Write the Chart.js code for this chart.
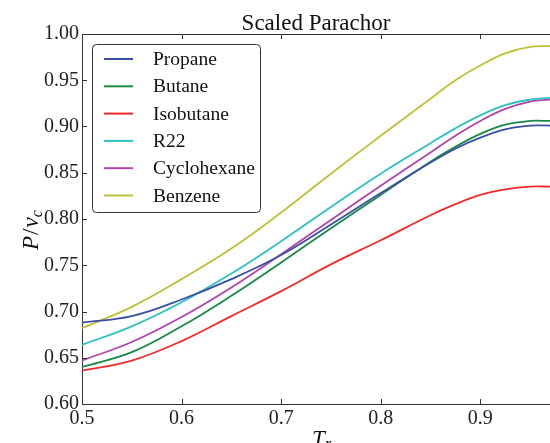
<!DOCTYPE html>
<html>
<head>
<meta charset="utf-8">
<script src="https://cdn.jsdelivr.net/npm/chart.js@4.4.0/dist/chart.umd.min.js"></script>
<style>
  html, body { margin: 0; padding: 0; background: #fff; }
  #wrap { width: 550px; height: 443px; }
</style>
</head>
<body>
<div id="wrap"><canvas id="chart" width="550" height="443"></canvas></div>
<script>
// reduced temperature
var tr = [0.5, 0.55, 0.6, 0.65, 0.7, 0.75, 0.8, 0.85, 0.875, 0.9, 0.925, 0.95, 0.97];

var propane     = [0.688, 0.695, 0.713, 0.735, 0.761, 0.794, 0.828, 0.861, 0.876, 0.888, 0.897, 0.901, 0.901];
var butane      = [0.640, 0.656, 0.684, 0.717, 0.753, 0.790, 0.826, 0.862, 0.878, 0.892, 0.902, 0.906, 0.906];
var isobutane   = [0.636, 0.647, 0.668, 0.695, 0.722, 0.751, 0.777, 0.804, 0.816, 0.826, 0.832, 0.835, 0.835];
var r22         = [0.664, 0.684, 0.710, 0.741, 0.776, 0.813, 0.849, 0.882, 0.898, 0.912, 0.923, 0.929, 0.931];
var cyclohexane = [0.647, 0.667, 0.694, 0.726, 0.762, 0.799, 0.836, 0.872, 0.890, 0.906, 0.919, 0.927, 0.929];
var benzene     = [0.682, 0.705, 0.735, 0.768, 0.807, 0.849, 0.890, 0.930, 0.950, 0.966, 0.979, 0.986, 0.987];

var xTicks = [0.5, 0.6, 0.7, 0.8, 0.9];
var yTicks = [0.60, 0.65, 0.70, 0.75, 0.80, 0.85, 0.90, 0.95, 1.00];

var serif = "'Liberation Serif', 'DejaVu Serif', serif";

function pts(vals) {
    return tr.map(function (x, i) { return { x: x, y: vals[i] }; });
}

function ds(label, vals, color) {
    return {
        label: label,
        data: pts(vals),
        borderColor: color,
        backgroundColor: color,
        borderWidth: 1.8,
        pointRadius: 0,
        fill: false,
        tension: 0.4
    };
}

// spines, inward ticks, title, axis labels and legend box
var decor = {
    id: 'decor',
    afterDraw: function (c) {
        var ctx = c.ctx, a = c.chartArea;
        var xs = c.scales.x, ys = c.scales.y;
        ctx.save();
        ctx.strokeStyle = '#333';
        ctx.lineWidth = 1;
        ctx.beginPath();
        ctx.moveTo(a.left, a.top + 0.5);
        ctx.lineTo(a.right, a.top + 0.5);
        ctx.stroke();

        ctx.beginPath();
        xTicks.forEach(function (v) {
            var px = Math.round(xs.getPixelForValue(v)) + 0.5;
            ctx.moveTo(px, a.bottom);
            ctx.lineTo(px, a.bottom - 5);
            ctx.moveTo(px, a.top);
            ctx.lineTo(px, a.top + 5);
        });
        yTicks.forEach(function (v) {
            var py = Math.round(ys.getPixelForValue(v)) + 0.5;
            ctx.moveTo(a.left, py);
            ctx.lineTo(a.left + 5, py);
        });
        ctx.stroke();

        // title
        ctx.fillStyle = '#111';
        ctx.font = '23px ' + serif;
        ctx.textAlign = 'center';
        ctx.textBaseline = 'alphabetic';
        ctx.fillText('Scaled Parachor', (a.left + a.right) / 2, 30);

        // x label T_r
        ctx.font = 'italic 23px ' + serif;
        ctx.textAlign = 'left';
        ctx.fillText('T', 312, 446);
        ctx.font = 'italic 16px ' + serif;
        ctx.fillText('r', 325, 449);

        // y label P/v_c
        ctx.save();
        ctx.translate(38, 250);
        ctx.rotate(-Math.PI / 2);
        ctx.font = 'italic 23px ' + serif;
        ctx.textAlign = 'left';
        ctx.fillText('P', 0, 0);
        var w = ctx.measureText('P').width;
        ctx.font = '23px ' + serif;
        ctx.fillText('/', w + 1, 0);
        w += ctx.measureText('/').width + 2;
        ctx.font = 'italic 23px ' + serif;
        ctx.fillText('v', w, 0);
        w += ctx.measureText('v').width;
        ctx.font = 'italic 16px ' + serif;
        ctx.fillText('c', w, 4);
        ctx.restore();

        // legend
        var bx = 92.5, by = 44.5, bw = 168, bh = 168, r = 4;
        ctx.beginPath();
        ctx.moveTo(bx + r, by);
        ctx.arcTo(bx + bw, by, bx + bw, by + bh, r);
        ctx.arcTo(bx + bw, by + bh, bx, by + bh, r);
        ctx.arcTo(bx, by + bh, bx, by, r);
        ctx.arcTo(bx, by, bx + bw, by, r);
        ctx.closePath();
        ctx.fillStyle = '#fff';
        ctx.fill();
        ctx.strokeStyle = '#333';
        ctx.stroke();

        ctx.font = '19.5px ' + serif;
        ctx.textBaseline = 'middle';
        c.data.datasets.forEach(function (d, i) {
            var y = 59 + i * 27.3;
            ctx.strokeStyle = d.borderColor;
            ctx.lineWidth = 2;
            ctx.beginPath();
            ctx.moveTo(104, y);
            ctx.lineTo(133, y);
            ctx.stroke();
            ctx.fillStyle = '#111';
            ctx.fillText(d.label, 153, y + 1);
        });
        ctx.restore();
    }
};

new Chart(document.getElementById('chart'), {
    type: 'line',
    data: {
        datasets: [
            ds('Propane', propane, '#3b50a5'),
            ds('Butane', butane, '#178a45'),
            ds('Isobutane', isobutane, '#f02a2a'),
            ds('R22', r22, '#2ec0c0'),
            ds('Cyclohexane', cyclohexane, '#b044aa'),
            ds('Benzene', benzene, '#bfbf38')
        ]
    },
    options: {
        responsive: false,
        animation: false,
        parsing: false,
        layout: { padding: { top: 34, right: 0, left: 0, bottom: 0 } },
        plugins: {
            legend: { display: false },
            title: { display: false },
            tooltip: { enabled: false }
        },
        scales: {
            x: {
                type: 'linear',
                min: 0.5,
                max: 0.97,
                grid: { display: false, drawTicks: false, tickLength: 0 },
                border: { display: true, color: '#333', width: 1 },
                afterBuildTicks: function (s) {
                    s.ticks = xTicks.map(function (v) { return { value: v }; });
                },
                afterFit: function (s) { s.height = 39; },
                ticks: {
                    padding: 3,
                    maxRotation: 0,
                    autoSkip: false,
                    color: '#222',
                    font: { family: serif, size: 20 },
                    callback: function (v) { return v.toFixed(1); }
                }
            },
            y: {
                min: 0.6,
                max: 1.0,
                grid: { display: false, drawTicks: false, tickLength: 0 },
                border: { display: true, color: '#333', width: 1 },
                afterBuildTicks: function (s) {
                    s.ticks = yTicks.map(function (v) { return { value: v }; });
                },
                afterFit: function (s) { s.width = 82; },
                ticks: {
                    padding: 3,
                    autoSkip: false,
                    color: '#222',
                    font: { family: serif, size: 20 },
                    callback: function (v) { return v.toFixed(2); }
                }
            }
        }
    },
    plugins: [decor]
});
</script>
</body>
</html>
